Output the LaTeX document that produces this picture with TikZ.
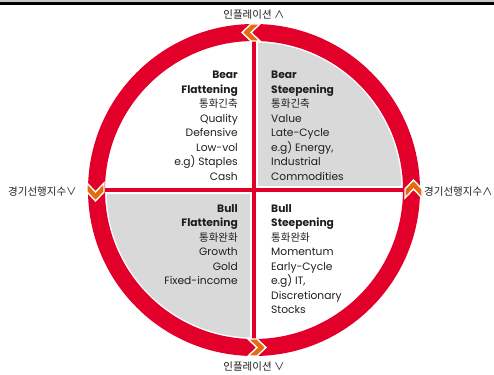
\documentclass[tikz,border=0pt]{standalone}
\usepackage{fontspec}
\setmainfont{Poppins}
\newfontfamily\kr{Noto Sans CJK KR}
\definecolor{ringred}{RGB}{226,0,42}
\definecolor{chevorange}{RGB}{228,108,10}
\definecolor{quadgrey}{RGB}{217,217,217}
\definecolor{bargrey}{RGB}{200,200,200}
\definecolor{txt}{RGB}{30,30,30}
\newcommand{\krq}[1]{{\kr\fontsize{10.5}{14.5}\selectfont #1}}
\begin{document}
\begin{tikzpicture}[x=1pt,y=-1pt,
  qtxt/.style={inner sep=0pt, text=txt, font=\fontsize{10.7}{14.5}\selectfont},
  axislbl/.style={inner sep=0pt, text=txt, font=\kr\fontsize{10.5}{12}\selectfont},
  chevron/.style={fill=chevorange, draw=white, line width=1.4pt, line join=miter},
  ringline/.style={draw=ringred, line width=17pt},
  divider/.style={draw=ringred, line width=4pt},
  dividergap/.style={draw=white, line width=8pt}]
\useasboundingbox (0,0) rectangle (494,374);

% top rule
\fill[bargrey] (0,0) rectangle (494,1.7);
\fill[black] (0,1.7) rectangle (494,5);

% centre and axis end points
\coordinate (c) at (254,190);
\coordinate (nTop) at (254,30);
\coordinate (nBot) at (254,350);
\coordinate (nLeft) at (94,190);
\coordinate (nRight) at (414,190);

% shaded quadrants
\begin{scope}
  \clip (c) circle (147.5);
  \fill[quadgrey] (c) rectangle (430,20);
  \fill[quadgrey] (c) rectangle (80,360);
\end{scope}

% dividers
\draw[dividergap] (nTop) -- (nBot);
\draw[dividergap] (nLeft) -- (nRight);
\draw[divider] (nTop) -- (nBot);
\draw[divider] (nLeft) -- (nRight);

% ring
\draw[ringline] (c) circle (157.5);

% direction chevrons
\newcommand{\chevshape}{(-10,0) -- (-1,-8.5) -- (8,-8.5) -- (-1,0) -- (8,8.5) -- (-1,8.5) -- cycle}
\fill[chevron, shift={(252,32.5)}] \chevshape;
\fill[chevron, shift={(95.5,191)}, rotate=90] \chevshape;
\fill[chevron, shift={(256,347.5)}, rotate=180] \chevshape;
\fill[chevron, shift={(413.5,190)}, rotate=-90] \chevshape;

% axis labels
\node[axislbl] (inflUp) at (254,15) {인플레이션 ∧};
\node[axislbl] (inflDown) at (254,367) {인플레이션 ∨};
\node[axislbl, anchor=west] (leadDown) at (8,192) {경기선행지수∨};
\node[axislbl, anchor=west] (leadUp) at (424,192) {경기선행지수∧};

% quadrant texts
\node[qtxt, align=right, anchor=north east] (bearFlat) at (238,71)
  {\textbf{Bear}\\\textbf{Flattening}\\\krq{통화긴축}\\Quality\\Defensive\\Low-vol\\e.g) Staples\\Cash};
\node[qtxt, align=left, anchor=north west] (bearSteep) at (271,71)
  {\textbf{Bear}\\\textbf{Steepening}\\\krq{통화긴축}\\Value\\Late-Cycle\\e.g) Energy,\\Industrial\\Commodities};
\node[qtxt, align=right, anchor=north east] (bullFlat) at (238,204)
  {\textbf{Bull}\\\textbf{Flattening}\\\krq{통화완화}\\Growth\\Gold\\Fixed-income};
\node[qtxt, align=left, anchor=north west] (bullSteep) at (271,204)
  {\textbf{Bull}\\\textbf{Steepening}\\\krq{통화완화}\\Momentum\\Early-Cycle\\e.g) IT,\\Discretionary\\Stocks};
\end{tikzpicture}
\end{document}
